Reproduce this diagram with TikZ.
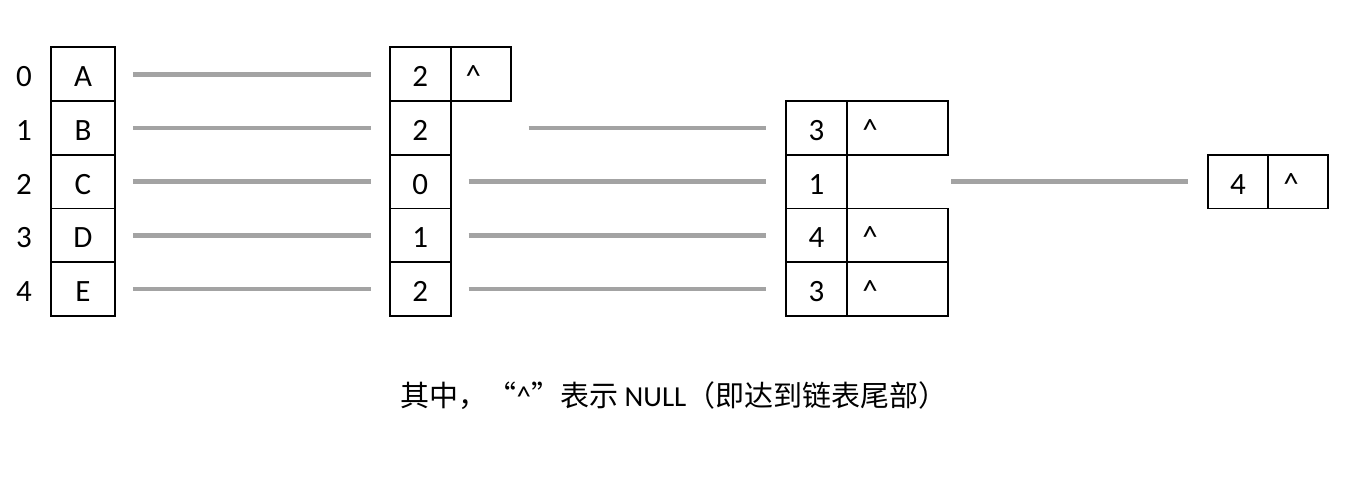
\documentclass[tikz,border=0pt]{standalone}
\usepackage{fontspec}
\setmainfont{Carlito}
\newfontfamily\cjk{Noto Sans CJK SC}
\definecolor{linkgray}{HTML}{A3A3A3}
\begin{document}
\begin{tikzpicture}[x=1pt,y=-1pt,
  cell/.style={draw, line width=1.8pt, inner sep=0pt, minimum height=53.7pt,
    text height=25pt, text depth=0pt, font=\fontsize{31}{31}\selectfont},
  nullcell/.style={cell, align=left, inner xsep=15pt},
  idx/.style={inner sep=0pt, text height=25pt, text depth=0pt, font=\fontsize{31}{31}\selectfont},
  link/.style={draw=linkgray, line width=4.7pt}
]
\useasboundingbox (0,0) rectangle (1351,496);
% row centres: 74.15 + k*53.7
% index labels
\node[idx] (i0) at (24,74.15) {0};
\node[idx] (i1) at (24,127.85) {1};
\node[idx] (i2) at (24,181.55) {2};
\node[idx] (i3) at (24,235.25) {3};
\node[idx] (i4) at (24,288.95) {4};
% vertex column
\node[cell, minimum width=64pt] (va) at (83,74.15) {A};
\node[cell, minimum width=64pt] (vb) at (83,127.85) {B};
\node[cell, minimum width=64pt] (vc) at (83,181.55) {C};
\node[cell, minimum width=64pt] (vd) at (83,235.25) {D};
\node[cell, minimum width=64pt] (ve) at (83,288.95) {E};
% second column
\node[cell, minimum width=60.7pt] (b0) at (420.35,74.15) {2};
\node[nullcell, text width=30.3pt] (b0n) at (480.85,74.15) {\textasciicircum};
\node[cell, minimum width=60.7pt] (b1) at (420.35,127.85) {2};
\node[cell, minimum width=60.7pt] (b2) at (420.35,181.55) {0};
\node[cell, minimum width=60.7pt] (b3) at (420.35,235.25) {1};
\node[cell, minimum width=60.7pt] (b4) at (420.35,288.95) {2};
% third column
\node[cell, minimum width=61.6pt] (c1) at (816.5,127.85) {3};
\node[nullcell, text width=71pt] (c1n) at (897.8,127.85) {\textasciicircum};
\node[cell, minimum width=61.6pt] (c2) at (816.5,181.55) {1};
\node[cell, minimum width=61.6pt] (c3) at (816.5,235.25) {4};
\node[nullcell, text width=71pt] (c3n) at (897.8,235.25) {\textasciicircum};
\node[cell, minimum width=61.6pt] (c4) at (816.5,288.95) {3};
\node[nullcell, text width=71pt] (c4n) at (897.8,288.95) {\textasciicircum};
% fourth column
\node[cell, minimum width=60.6pt] (d1) at (1238,181.55) {4};
\node[nullcell, text width=30pt] (d1n) at (1298.3,181.55) {\textasciicircum};
% connectors
\draw[link, shorten <=17pt, shorten >=18pt] (va) -- (b0);
\draw[link, shorten <=17pt, shorten >=18pt] (vb) -- (b1);
\draw[link, shorten <=17pt, shorten >=18pt] (vc) -- (b2);
\draw[link, shorten <=17pt, shorten >=18pt] (vd) -- (b3);
\draw[link, shorten <=17pt, shorten >=18pt] (ve) -- (b4);
\draw[link, shorten <=77pt, shorten >=18.7pt] (b1) -- (c1);
\draw[link, shorten <=17pt, shorten >=18.7pt] (b2) -- (c2);
\draw[link, shorten <=17pt, shorten >=18.7pt] (b3) -- (c3);
\draw[link, shorten <=17pt, shorten >=18.7pt] (b4) -- (c4);
\draw[link, shorten <=103pt, shorten >=18.7pt] (c2) -- (d1);
% note
\node[inner sep=0pt, font=\fontsize{29}{29}\selectfont] (note) at (674,396)
  {{\cjk 其中，“}\textasciicircum{\cjk ”表示} NULL{\cjk （即达到链表尾部）}};
\end{tikzpicture}
\end{document}
